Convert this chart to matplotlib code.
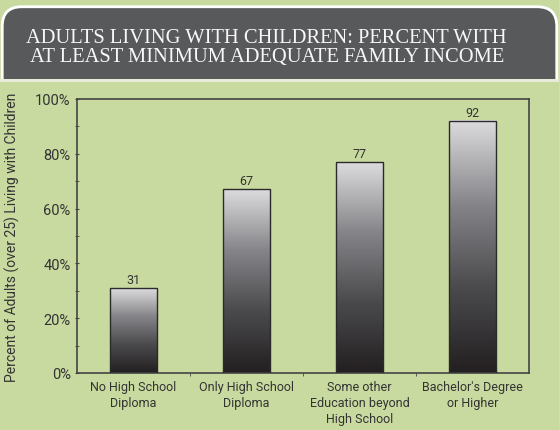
import matplotlib
matplotlib.use('Agg')
import matplotlib.pyplot as plt
from matplotlib.patches import FancyBboxPatch, Rectangle
from matplotlib.colors import LinearSegmentedColormap
from matplotlib.ticker import MultipleLocator, FuncFormatter
import numpy as np

categories = ["No High School\nDiploma", "Only High School\nDiploma",
              "Some other\nEducation beyond\nHigh School", "Bachelor's Degree\nor Higher"]
values = [31, 67, 77, 92]

title = "ADULTS LIVING WITH CHILDREN: PERCENT WITH\nAT LEAST MINIMUM ADEQUATE FAMILY INCOME"
ylabel = "Percent of Adults (over 25) Living with Children"

green = "#c8da9f"
dark = "#58595b"
textc = "#333333"
sans = ["Roboto", "DejaVu Sans"]

fig = plt.figure(figsize=(5.59, 4.31), dpi=100)
fig.patch.set_facecolor(green)

# title banner: rounded top, cut flat at the bottom
banner = FancyBboxPatch((0.004, 0.70), 0.992, 0.282, boxstyle="round,pad=0,rounding_size=0.035",
                        transform=fig.transFigure, facecolor=dark, edgecolor="white", linewidth=2.0,
                        mutation_aspect=559 / 431)
fig.patches.append(banner)
fig.patches.append(Rectangle((0, 0.0), 1, 0.810, transform=fig.transFigure,
                             facecolor=green, edgecolor="none"))
fig.patches.append(Rectangle((0, 0.808), 1, 0.006, transform=fig.transFigure,
                             facecolor="#e6ebda", edgecolor="none"))
fig.text(0.477, 0.889, title, ha="center", va="center", color="#f8f8f8",
         fontsize=14.8, family="Liberation Serif", linespacing=1.0)

ax = fig.add_axes([0.1377, 0.1323, 0.8086, 0.6357])
ax.set_zorder(2)
ax.set_facecolor(green)

cmap = LinearSegmentedColormap.from_list("bar", ["#231f20", "#4a4a4d", "#858589", "#dcdcde"])
grad = np.linspace(0, 1, 256).reshape(-1, 1)
width = 0.41
x = np.arange(len(values))
for xi, v in zip(x, values):
    ax.imshow(grad, extent=(xi - width / 2, xi + width / 2, 0, v), origin="lower",
              cmap=cmap, aspect="auto", zorder=2)
    ax.add_patch(Rectangle((xi - width / 2, 0), width, v, facecolor="none",
                           edgecolor="#2a2a2a", linewidth=1.0, zorder=3))
    ax.text(xi, v + 0.8, str(v), ha="center", va="bottom", fontsize=9,
            color=textc, family=sans)

ax.set_xlim(-0.5, len(values) - 0.5)
ax.set_ylim(0, 100)

ax.set_xticks(x)
ax.set_xticklabels(categories, fontsize=9, color=textc, family=sans, linespacing=1.3)
ax.tick_params(axis="x", which="major", length=0, pad=5)
ax.set_xticks(x[:-1] + 0.5, minor=True)
ax.tick_params(axis="x", which="minor", length=2.5, color="#444444", direction="out")

ax.yaxis.set_major_locator(MultipleLocator(20))
ax.yaxis.set_minor_locator(MultipleLocator(10))
ax.yaxis.set_major_formatter(FuncFormatter(lambda v, p: f"{int(v)}%"))
ax.tick_params(axis="y", which="both", length=3, direction="inout", color="#444444",
               labelsize=10.5, labelcolor=textc, pad=3)
for lab in ax.get_yticklabels():
    lab.set_family(sans)

for s in ax.spines.values():
    s.set_color("#444444")
    s.set_linewidth(1.2)

fig.text(0.022, 0.45, ylabel, rotation=90, ha="center", va="center",
         fontsize=10, color=textc, family=sans)

fig.savefig("out.png", dpi=100, facecolor=fig.get_facecolor())
